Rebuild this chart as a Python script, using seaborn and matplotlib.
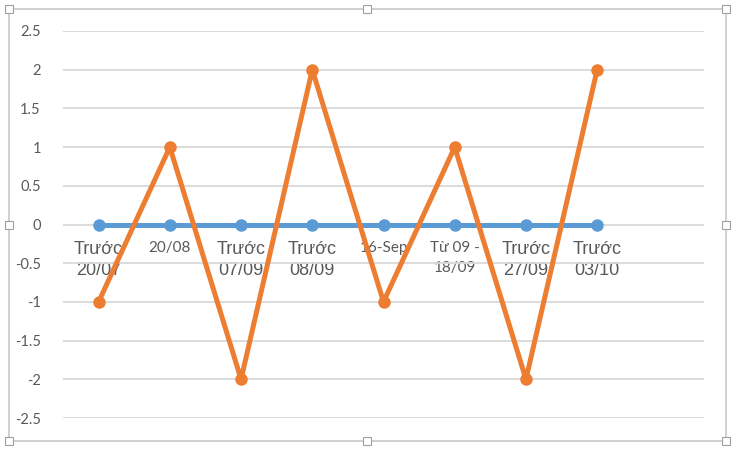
import pandas as pd
import seaborn as sns
import matplotlib.pyplot as plt
from matplotlib.patches import Rectangle

# chart data
categories = ["Trước\n20/07", "20/08", "Trước\n07/09", "Trước\n08/09",
              "16-Sep", "Từ 09 -\n18/09", "Trước\n27/09", "Trước\n03/10"]
series1 = [0, 0, 0, 0, 0, 0, 0, 0]
series2 = [-1, 1, -2, 2, -1, 1, -2, 2]
y_ticks = [2.5, 2, 1.5, 1, 0.5, 0, -0.5, -1, -1.5, -2, -2.5]

df = pd.DataFrame({"pos": list(range(len(categories))) * 2,
                   "value": series1 + series2,
                   "series": ["Series1"] * len(categories) + ["Series2"] * len(categories)})

sns.set_style("white")
plt.rcParams['font.family'] = ['Liberation Sans', 'DejaVu Sans']

fig = plt.figure(figsize=(7.34, 4.5), dpi=100)
ax = fig.add_axes([63 / 734, 32 / 450, 641 / 734, 387 / 450])

sns.lineplot(data=df, x="pos", y="value", hue="series",
             palette={"Series1": "#5B9BD5", "Series2": "#ED7D31"},
             marker="o", markersize=9, markeredgewidth=0, linewidth=3.6,
             legend=False, ax=ax)

ax.set_xlim(-0.5, 8.5)
ax.set_ylim(-2.5, 2.5)
ax.set_yticks(y_ticks)
ax.set_yticklabels([f"{v:g}" for v in y_ticks], color="#595959", fontsize=10.5,
                   fontfamily=['Lato', 'DejaVu Sans'])
ax.grid(axis="y", color="#d9d9d9", linewidth=1.3)
ax.set_axisbelow(True)
for s in ax.spines.values():
    s.set_visible(False)
ax.spines['bottom'].set_position(('data', 0))
ax.set_xticks(range(len(categories)))
ax.set_xticklabels(categories)
ax.tick_params(axis="x", length=0, pad=12)
ax.tick_params(axis="y", length=0, pad=16)
for lbl in ax.get_xticklabels():
    lbl.set_color("#595959")
    if lbl.get_text().startswith("Trước"):
        lbl.set_fontfamily(['Liberation Sans', 'DejaVu Sans'])
        lbl.set_fontsize(13)
        lbl.set_linespacing(1.3)
    else:
        lbl.set_fontfamily(['Lato', 'DejaVu Sans'])
        lbl.set_fontsize(11)
        lbl.set_linespacing(1.5)
ax.set_xlabel("")
ax.set_ylabel("")

# chart frame with selection handles
W, H = 734, 450
fig.patches.append(Rectangle((9 / W, 1 - 441 / H), 717 / W, 432 / H,
                             transform=fig.transFigure, fill=False,
                             edgecolor="#c8c8c8", linewidth=1.2))
for hx in [9, 367, 726]:
    for hy in [9, 225, 441]:
        if hx == 367 and hy == 225:
            continue
        fig.patches.append(Rectangle(((hx - 4) / W, 1 - (hy + 4) / H), 8 / W, 8 / H,
                                     transform=fig.transFigure, facecolor="white",
                                     edgecolor="#a0a0a0", linewidth=0.8))

fig.savefig("out.png", dpi=100)
